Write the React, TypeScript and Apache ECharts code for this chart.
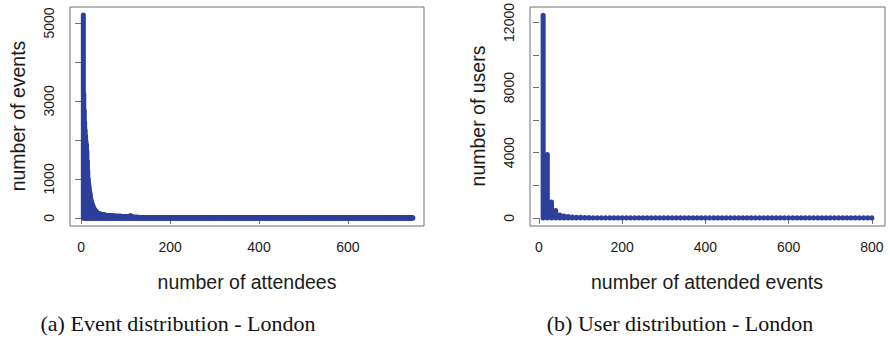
import React, { useEffect, useRef } from "react";
import * as echarts from "echarts";

// ---------- Data ----------
// (a) Event distribution: number of events per number of attendees (x = 5 .. 746)
const eventStartX = 5;
const eventHead: number[] = [
  5200, 3180, 2750, 2450, 2250, 2100, 1950, 1870, 1700, 1450, 1200, 990, 880, 790, 700, 630, 560, 480, 420, 390,
  350, 320, 290, 260, 240, 210, 195, 180, 165, 155, 145, 135, 128, 120, 114, 108, 103, 99, 95, 92,
  90, 95, 88, 85, 82, 80, 78, 75, 73, 70, 68, 66, 64, 62, 60, 58, 57, 56, 55, 54,
  53, 52, 51, 50, 50, 49, 48, 48, 47, 46, 46, 45, 45, 44, 44, 43, 43, 42, 42, 41,
  41, 40, 40, 40, 39, 39, 38, 38, 38, 37, 37, 37, 36, 36, 36, 35, 35, 35, 34, 34,
  34, 33, 33, 33, 32, 32, 60, 32, 24, 22, 21, 20, 20, 19, 19, 18,
];
const eventTail: number[] = [
  18, 16, 17, 15, 14, 16, 13, 15, 12, 14, 13, 12, 11, 13, 12, 10, 12, 11, 10, 11, 9, 10, 11, 9, 10,
  9, 10, 8, 9, 9, 8, 10, 8, 7, 9, 8, 7, 8, 7, 8, 6, 7, 8, 6, 7, 6, 7, 6, 5, 7,
  6, 5, 6, 5, 6, 5, 4, 6, 5, 4, 5, 4, 5, 4, 4, 5, 3, 4, 4, 3, 5, 4, 3, 4, 3,
  4, 3, 3, 4, 3, 2, 3, 4, 3, 2, 3, 3, 2, 3, 2, 3, 2, 2, 3, 2, 2, 3, 2, 2, 1,
  2, 2, 1, 2, 2, 1, 2, 1, 2, 2, 1, 2, 1, 1, 2, 1, 2, 1, 1, 2, 1, 1, 2, 1, 1,
  1, 2, 1, 1, 1, 2, 1, 1, 0, 1, 1, 2, 1, 0, 1, 1, 1, 0, 1, 1, 2, 0, 1, 1, 0,
  1, 1, 0, 1, 1, 0, 1, 0, 1, 1, 0, 1, 0, 1, 0, 1, 1, 0, 0, 1, 0, 1, 0, 1, 0,
  0, 1, 1, 0, 1, 0, 0, 1, 0, 1, 0, 0, 1, 0, 1, 0, 0, 1, 0, 0, 1, 0, 1, 0, 0,
  1, 0, 0, 1, 0, 0, 1, 0, 0, 0, 1, 0, 1, 0, 0, 1, 0, 0, 0, 1, 0, 0, 1, 0, 0,
  0, 1, 0, 0, 1, 0, 0, 0, 1, 0, 0, 0, 1, 0, 0, 1, 0, 0, 0, 0, 1, 0, 0, 1, 0,
  0, 0, 1, 0, 0, 0, 0, 1, 0, 0, 1, 0, 0, 0, 0, 1, 0, 0, 0, 1, 0, 0, 0, 0, 1,
  0, 0, 0, 1, 0, 0, 0, 0, 1, 0, 0, 0, 1, 0, 0, 0, 0, 0, 1, 0, 0, 0, 0, 1, 0,
  0, 0, 0, 1, 0, 0, 0, 0, 0, 1, 0, 0, 0, 0, 1, 0, 0, 0, 0, 0, 1, 0, 0, 0, 0,
  1, 0, 0, 0, 0, 0, 1, 0, 0, 0, 0, 1, 0, 0, 0, 0, 0, 1, 0, 0, 0, 0, 0, 0, 1,
  0, 0, 0, 0, 1, 0, 0, 0, 0, 0, 0, 1, 0, 0, 0, 0, 0, 1, 0, 0, 0, 0, 0, 0, 1,
  0, 0, 0, 0, 0, 1, 0, 0, 0, 0, 0, 0, 1, 0, 0, 0, 0, 0, 0, 0, 1, 0, 0, 0, 0,
  0, 0, 1, 0, 0, 0, 0, 0, 0, 0, 1, 0, 0, 0, 0, 0, 0, 0, 1, 0, 0, 0, 0, 0, 0,
  0, 0, 1, 0, 0, 0, 0, 0, 0, 0, 0, 1, 0, 0, 0, 0, 0, 0, 0, 1, 0, 0, 0, 0, 0,
  0, 0, 0, 1, 0, 0, 0, 0, 0, 0, 0, 0, 1, 0, 0, 0, 0, 0, 0, 0, 0, 1, 0, 0, 0,
  0, 0, 0, 0, 0, 0, 1, 0, 0, 0, 0, 0, 0, 0, 0, 0, 1, 0, 0, 0, 0, 0, 0, 0, 0,
  0, 0, 1, 0, 0, 0, 0, 0, 0, 0, 0, 0, 0, 0, 1, 0, 0, 0, 0, 0, 0, 0, 0, 0, 0,
  0, 1, 0, 0, 0, 0, 0, 0, 0, 0, 0, 0, 0, 0, 0, 1, 0, 0, 0, 0, 0, 0, 0, 0, 0,
  0, 0, 0, 0, 1, 0, 0, 0, 0, 0, 0, 0, 0, 0, 0, 0, 0, 0, 0, 1, 0, 0, 0, 0, 0,
  0, 0, 0, 0, 0, 0, 0, 0, 1, 0, 0, 0, 0, 0, 0, 0, 0, 0, 0, 0, 0, 0, 0, 0, 0,
  0, 0, 0, 0, 0, 0, 0, 0, 0, 0, 0, 0, 0, 0, 0, 0, 0, 0, 0, 0, 0, 0, 0, 0, 0,
  1,
];

// (b) User distribution: number of users per number of attended events (bins 10 .. 800)
const userBins: number[] = [
  10, 20, 30, 40, 50, 60, 70, 80, 90, 100, 110, 120, 130, 140, 150, 160, 170, 180, 190, 200,
  210, 220, 230, 240, 250, 260, 270, 280, 290, 300, 310, 320, 330, 340, 350, 360, 370, 380, 390, 400,
  410, 420, 430, 440, 450, 460, 470, 480, 490, 500, 510, 520, 530, 540, 550, 560, 570, 580, 590, 600,
  610, 620, 630, 640, 650, 660, 670, 680, 690, 700, 710, 720, 730, 740, 750, 760, 770, 780, 790, 800,
];
const userCounts: number[] = [
  12450, 3900, 980, 450, 180, 110, 80, 60, 45, 35, 25, 20, 15, 12, 10, 8, 6, 5, 4, 3,
  2, 2, 1, 2, 1, 1, 1, 0, 1, 1, 0, 1, 0, 0, 1, 0, 0, 1, 0, 0,
  0, 1, 0, 0, 0, 0, 1, 0, 0, 0, 0, 0, 1, 0, 0, 0, 0, 0, 0, 0,
  1, 0, 0, 0, 0, 0, 0, 0, 0, 0, 0, 0, 0, 0, 0, 0, 0, 0, 0, 1,
];

const eventTicksX = [0, 200, 400, 600];
const eventTicksY = [0, 1000, 2000, 3000, 4000, 5000];
const eventLabelsY = [0, 1000, 3000, 5000];
const userTicksX = [0, 200, 400, 600, 800];
const userTicksY = [0, 2000, 4000, 6000, 8000, 10000, 12000];
const userLabelsY = [0, 4000, 8000, 12000];

// ---------- Styling ----------
const BLUE = "#2e3f9b";
const BOX = "#707070";
const SANS = "'Liberation Sans', Arial, sans-serif";
const SERIF = "'Liberation Serif', 'DejaVu Serif', serif";

const eventData: number[][] = [
  ...eventHead.map((v, i) => [eventStartX + i, v]),
  ...eventTail.map((v, i) => [eventStartX + eventHead.length + i, v]),
];
const userData: number[][] = userBins.map((b, i) => [b, userCounts[i]]);

// R type="h" style vertical lines with round ends (zero-height lines show as dots)
function hLines(lw: number) {
  return (params: any, api: any) => {
    const x = api.value(0);
    const y = api.value(1);
    const p0 = api.coord([x, 0]);
    const p1 = api.coord([x, y]);
    const y2 = Math.abs(p1[1] - p0[1]) < 0.05 ? p0[1] - 0.05 : p1[1];
    return {
      type: "line",
      shape: { x1: p0[0], y1: p0[1], x2: p1[0], y2 },
      style: { stroke: BLUE, lineWidth: lw, lineCap: "round" },
    };
  };
}

const plain = (v: number) => String(v);

function xAxisCfg(gridIndex: number, min: number, max: number, ticks: number[]) {
  return {
    type: "value",
    gridIndex,
    min,
    max,
    splitLine: { show: false },
    axisLine: { show: false },
    axisTick: { show: true, length: 6, inside: false, customValues: ticks, lineStyle: { color: BOX, width: 1 } },
    axisLabel: { customValues: ticks, formatter: plain, margin: 14, color: "#1a1a1a", fontFamily: SANS, fontSize: 14 },
  };
}

function yAxisCfg(gridIndex: number, min: number, max: number, ticks: number[], labels: number[]) {
  return {
    type: "value",
    gridIndex,
    min,
    max,
    splitLine: { show: false },
    axisLine: { show: false },
    axisTick: { show: true, length: 6, inside: false, customValues: ticks, lineStyle: { color: BOX, width: 1 } },
    axisLabel: {
      customValues: labels,
      formatter: plain,
      rotate: 90,
      margin: 14,
      color: "#1a1a1a",
      fontFamily: SANS,
      fontSize: 14,
    },
  };
}

export default function App() {
  const ref = useRef<HTMLDivElement>(null);
  useEffect(() => {
    document.body.style.margin = "0";
    if (!ref.current) return;
    const chart = echarts.init(ref.current, null, { renderer: "svg" });
    chart.setOption({
      animation: false,
      backgroundColor: "#ffffff",
      grid: [
        { left: 70, top: 7, width: 354, height: 219, show: true, borderColor: BOX, borderWidth: 1, backgroundColor: "transparent" },
        { left: 530, top: 7, width: 355, height: 219, show: true, borderColor: BOX, borderWidth: 1, backgroundColor: "transparent" },
      ],
      xAxis: [xAxisCfg(0, -25, 771, eventTicksX), xAxisCfg(1, -21.6, 831.6, userTicksX)],
      yAxis: [
        yAxisCfg(0, -208, 5408, eventTicksY, eventLabelsY),
        yAxisCfg(1, -498, 12948, userTicksY, userLabelsY),
      ],
      series: [
        { type: "custom", xAxisIndex: 0, yAxisIndex: 0, data: eventData, renderItem: hLines(5), encode: { x: 0, y: 1 } },
        { type: "custom", xAxisIndex: 1, yAxisIndex: 1, data: userData, renderItem: hLines(5), encode: { x: 0, y: 1 } },
      ],
      graphic: [
        { type: "text", x: 18, y: 116, rotation: Math.PI / 2, style: { text: "number of events", font: `19.5px ${SANS}`, fill: "#1a1a1a", textAlign: "center", textVerticalAlign: "middle" } },
        { type: "text", x: 478, y: 116, rotation: Math.PI / 2, style: { text: "number of users", font: `19.5px ${SANS}`, fill: "#1a1a1a", textAlign: "center", textVerticalAlign: "middle" } },
        { type: "text", x: 247, y: 282, style: { text: "number of attendees", font: `19.5px ${SANS}`, fill: "#1a1a1a", textAlign: "center", textVerticalAlign: "middle" } },
        { type: "text", x: 707, y: 282, style: { text: "number of attended events", font: `19.5px ${SANS}`, fill: "#1a1a1a", textAlign: "center", textVerticalAlign: "middle" } },
        { type: "text", x: 178, y: 323, style: { text: "(a) Event distribution - London", font: `22px ${SERIF}`, fill: "#111", textAlign: "center", textVerticalAlign: "middle" } },
        { type: "text", x: 680, y: 323, style: { text: "(b) User distribution - London", font: `22px ${SERIF}`, fill: "#111", textAlign: "center", textVerticalAlign: "middle" } },
      ],
    });
    return () => chart.dispose();
  }, []);
  return <div ref={ref} style={{ width: 890, height: 341 }} />;
}
